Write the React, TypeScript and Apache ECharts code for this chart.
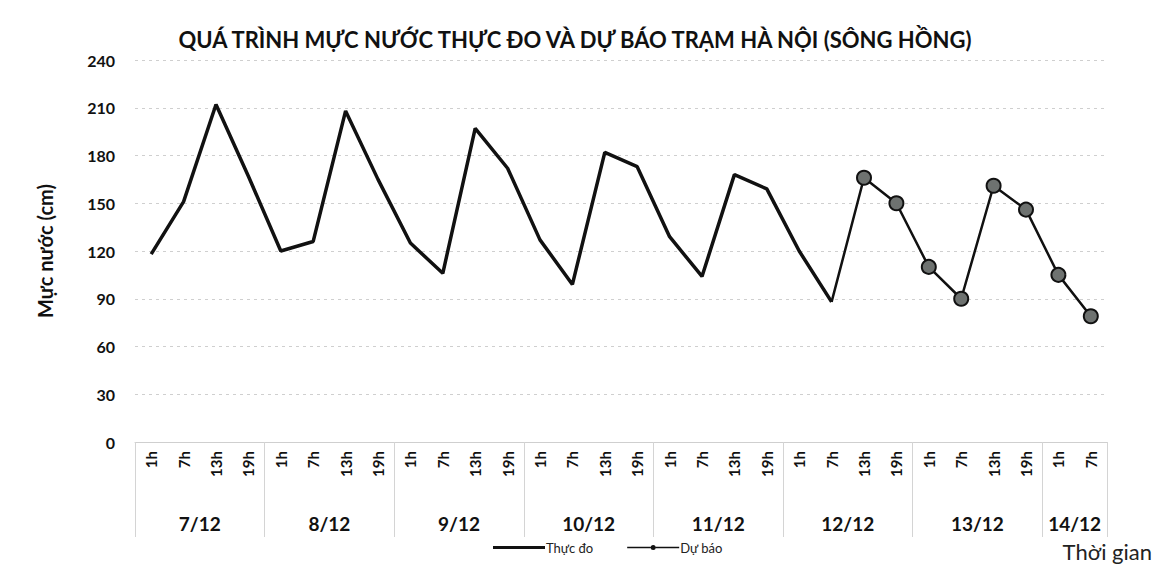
import React, { useEffect, useRef } from "react";
import * as echarts from "echarts";

const hourLabels = [
  "1h", "7h", "13h", "19h",
  "1h", "7h", "13h", "19h",
  "1h", "7h", "13h", "19h",
  "1h", "7h", "13h", "19h",
  "1h", "7h", "13h", "19h",
  "1h", "7h", "13h", "19h",
  "1h", "7h", "13h", "19h",
  "1h", "7h",
];
const dateLabels = ["7/12", "8/12", "9/12", "10/12", "11/12", "12/12", "13/12", "14/12"];
const dateCenters = [2, 6, 10, 14, 18, 22, 26, 29];
const dayBoundaries = [0, 4, 8, 12, 16, 20, 24, 28, 30];

const observed = [
  118, 151, 212, 167, 120, 126, 208, 165, 125, 106, 197, 172, 127, 99, 182, 173,
  129, 104, 168, 159, 120, 88, null, null, null, null, null, null, null, null,
];
const forecast = [
  null, null, null, null, null, null, null, null, null, null, null, null, null, null, null, null,
  null, null, null, null, null, 88, 166, 150, 110, 90, 161, 146, 105, 79,
];

const FONT = "Lato, 'Open Sans', sans-serif";

export default function App() {
  const ref = useRef<HTMLDivElement>(null);
  useEffect(() => {
    if (!ref.current) return;
    const chart = echarts.init(ref.current, undefined, { renderer: "svg" });
    chart.setOption({
      animation: false,
      backgroundColor: "#ffffff",
      textStyle: { fontFamily: FONT },
      title: [
        {
          text: "QUÁ TRÌNH MỰC NƯỚC THỰC ĐO VÀ DỰ BÁO TRẠM HÀ NỘI (SÔNG HỒNG)",
          left: 570,
          textAlign: "center",
          top: 23,
          textStyle: { fontSize: 22, fontWeight: "bold", color: "#111", fontFamily: FONT },
        },
        {
          text: "Thời gian",
          right: 21,
          top: 538,
          padding: 0,
          textStyle: { fontSize: 22, fontWeight: "normal", color: "#222", fontFamily: FONT, lineHeight: 26 },
        },
      ],
      legend: {
        left: 493,
        top: 541,
        itemWidth: 52,
        itemHeight: 6,
        itemGap: 34,
        padding: 0,
        textStyle: { fontSize: 13, color: "#222", fontFamily: FONT, padding: [0, 0, 0, -4] },
        data: [
          {
            name: "Thực đo",
            icon: "path://M0,1.5 L52,1.5 L52,4.5 L0,4.5 Z",
            itemStyle: { color: "#111", borderWidth: 0 },
          },
          {
            name: "Dự báo",
            icon: "path://M0,2.2 L23.5,2.2 L23.5,3.8 L0,3.8 Z M28.5,2.2 L52,2.2 L52,3.8 L28.5,3.8 Z M23.5,3 A2.5,2.5 0 1,1 28.5,3 A2.5,2.5 0 1,1 23.5,3 Z",
            itemStyle: { color: "#111", borderWidth: 0 },
          },
        ],
      },
      grid: { left: 135, right: 66, top: 60, bottom: 128 },
      xAxis: [
        {
          type: "category",
          data: hourLabels,
          boundaryGap: true,
          axisLine: { show: true, lineStyle: { color: "#cfcfcf", width: 1 } },
          axisTick: { show: false },
          axisLabel: {
            rotate: 90,
            interval: 0,
            margin: 9,
            fontSize: 15,
            fontWeight: "bold",
            color: "#111",
            fontFamily: FONT,
          },
        },
        {
          type: "value",
          min: 0,
          max: 30,
          interval: 1,
          position: "bottom",
          offset: 95,
          axisLine: { show: false },
          splitLine: { show: false },
          axisTick: {
            show: true,
            inside: true,
            length: 95,
            customValues: dayBoundaries,
            lineStyle: { color: "#d4d4d4", width: 1 },
          },
          axisLabel: {
            inside: true,
            margin: 4,
            customValues: dateCenters,
            formatter: (v: number) => {
              const i = dateCenters.indexOf(Math.round(v));
              return i >= 0 ? dateLabels[i] : "";
            },
            fontSize: 19,
            fontWeight: "bold",
            color: "#111",
            fontFamily: FONT,
          },
        },
      ],
      yAxis: {
        type: "value",
        min: 0,
        max: 240,
        interval: 30,
        name: "Mực nước (cm)",
        nameLocation: "middle",
        nameGap: 80,
        nameRotate: 90,
        nameTextStyle: { fontSize: 20, fontWeight: "bold", color: "#111", fontFamily: FONT },
        axisLine: { show: false },
        axisTick: { show: false },
        axisLabel: { margin: 20, fontSize: 16, fontWeight: "bold", color: "#111", fontFamily: FONT },
        splitLine: { show: true, lineStyle: { color: "#cfcfcf", type: [3, 4], width: 1 } },
      },
      series: [
        {
          name: "Thực đo",
          type: "line",
          xAxisIndex: 0,
          data: observed,
          showSymbol: false,
          symbol: "none",
          lineStyle: { color: "#111", width: 3.5 },
          itemStyle: { color: "#111" },
          connectNulls: false,
        },
        {
          name: "Dự báo",
          type: "line",
          xAxisIndex: 0,
          data: forecast.map((v, i) => (i === 21 ? { value: v, symbol: "none" } : v)),
          symbol: "circle",
          symbolSize: 14,
          lineStyle: { color: "#111", width: 2.5 },
          itemStyle: { color: "#6e7270", borderColor: "#111", borderWidth: 2 },
          connectNulls: false,
        },
      ],
    });
    return () => chart.dispose();
  }, []);
  return (
    <div
      ref={ref}
      style={{ position: "fixed", left: 0, top: 0, width: 1173, height: 570 }}
    />
  );
}
